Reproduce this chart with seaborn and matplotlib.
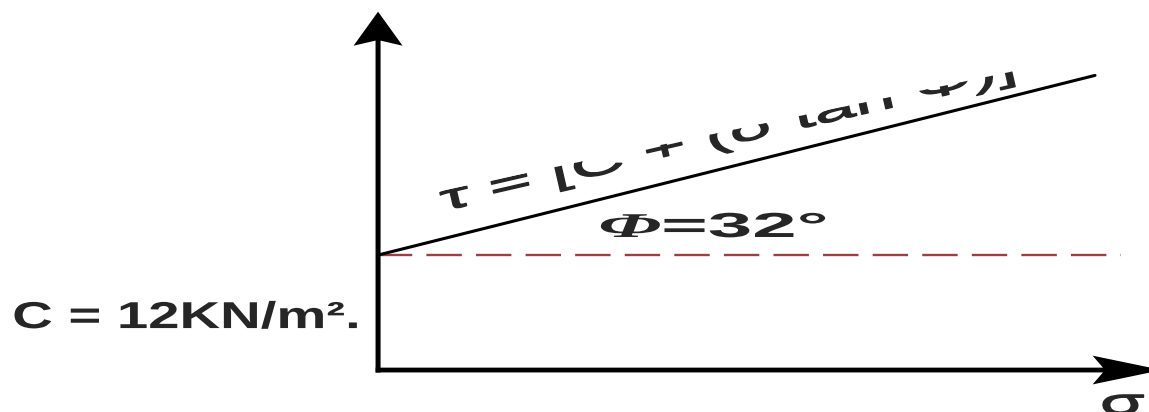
import matplotlib
matplotlib.use('Agg')
import matplotlib.pyplot as plt
import matplotlib.patheffects as pe
from matplotlib.patches import Polygon
from matplotlib.transforms import Affine2D
import pandas as pd
import seaborn as sns

# ---------------------------
# Data (Mohr-Coulomb envelope)
# ---------------------------
cohesion = 12          # kN/m2
phi_deg = 32
sigma_env = [0, 30]
tau_env = [12, 30.75]
sigma_c = [0, 31.1]
tau_c = [12, 12]

label_c = "C = 12KN/m²."
label_phi = r"$\mathbf{\Phi}$=32°"
label_tau = "τ = [C + (σ tan Φ)]"
label_sigma = "σ"


# ---------------------------
# Helpers
# ---------------------------
class Stretch(pe.AbstractPathEffect):
    """Widen glyphs along the text baseline (the source picture is stretched)."""
    def __init__(self, sx, stroke=0.0):
        super().__init__()
        self.sx = sx
        self.stroke = stroke

    def draw_path(self, renderer, gc, tpath, affine, rgbFace=None):
        gc0 = renderer.new_gc()
        gc0.copy_properties(gc)
        if self.stroke > 0:
            gc0.set_linewidth(self.stroke)
            gc0.set_foreground(rgbFace)
        renderer.draw_path(gc0, tpath, Affine2D().scale(self.sx, 1) + affine, rgbFace)
        gc0.restore()


# ---------------------------
# Plot
# ---------------------------
sns.set_theme(style="white")
plt.rcParams['font.family'] = ['Liberation Sans', 'DejaVu Sans']
plt.rcParams['mathtext.fontset'] = 'custom'
plt.rcParams['mathtext.bf'] = 'Liberation Serif:bold:italic'
plt.rcParams['mathtext.rm'] = 'Liberation Sans'

fig = plt.figure(figsize=(11.49, 4.12), dpi=100)
ax = fig.add_axes([0, 0, 1, 1])
ax.set_xlim(-15.82, 32.26)
ax.set_ylim(-4.38, 38.62)
ax.axis('off')

df_env = pd.DataFrame({"sigma": sigma_env, "tau": tau_env})
df_c = pd.DataFrame({"sigma": sigma_c, "tau": tau_c})

sns.lineplot(data=df_c, x="sigma", y="tau", ax=ax, color="#9c3f45",
             linewidth=1.7, linestyle=(0.5, (15, 6)))
sns.lineplot(data=df_env, x="sigma", y="tau", ax=ax, color="black",
             linewidth=2.2)

# axes with arrows
ax.arrow(-0.1, 0, 32.9, 0, width=0.5, head_width=3.0, head_length=2.9,
         length_includes_head=True, overhang=0.15, fc="black", ec="black", lw=0)
ax.arrow(0, -0.26, 0, 37.66, width=0.21, head_width=2.05, head_length=3.55,
         length_includes_head=True, overhang=0.15, fc="black", ec="black", lw=0)

# labels
ax.text(-15.31, 4.38, label_c, fontsize=27, fontweight="bold", va="baseline",
        ha="left", path_effects=[Stretch(1.5)])
ax.text(9.21, 13.88, label_phi, fontsize=25, fontweight="bold", va="baseline",
        ha="left", path_effects=[Stretch(2.3)])

# the top half of the envelope label is cut away in the source picture
t = ax.text(2.72, 16.60, label_tau, fontsize=26, va="baseline", ha="left",
            rotation=13, rotation_mode="anchor", clip_on=True,
            path_effects=[Stretch(2.05, stroke=1.0)])
clip = Polygon([(0.92, 17.80), (30.21, 33.07), (30.21, -4.4), (0.92, -4.4)],
               closed=True, transform=ax.transData)
t.set_clip_path(clip)

ax.text(30.21, -4.59, label_sigma, fontsize=26, va="baseline", ha="left",
        path_effects=[Stretch(2.0, stroke=1.0)], clip_on=False)

fig.savefig("out.png", dpi=100)
plt.close(fig)
